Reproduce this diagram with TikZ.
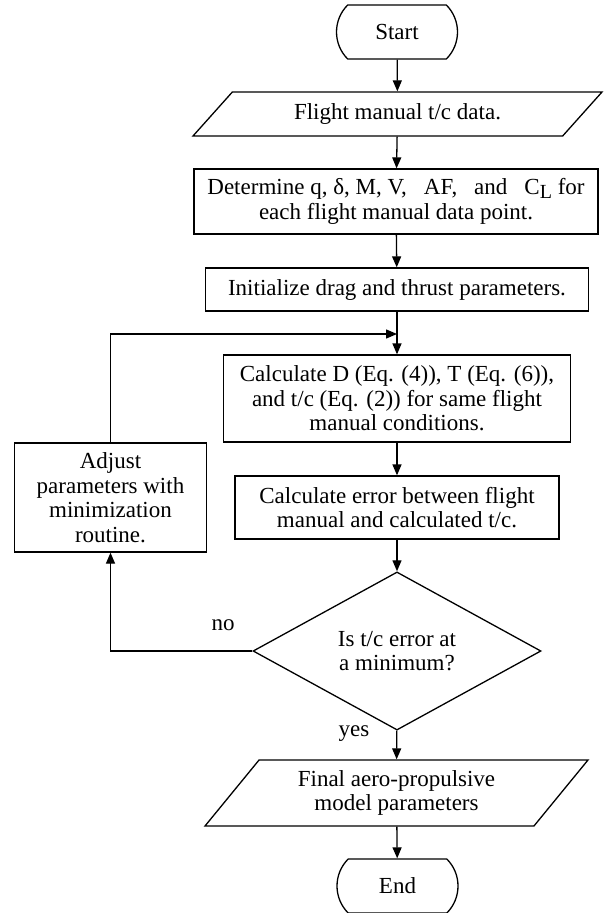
\documentclass[tikz,border=0pt]{standalone}
\usepackage{fontspec}
\setmainfont{Liberation Serif}
\usetikzlibrary{shapes.geometric,shapes.misc,arrows.meta}
\tikzset{
  every node/.style={font=\fontsize{23}{24.5}\selectfont, align=center, inner sep=0pt},
  term/.style={draw, rounded rectangle, rounded rectangle arc length=90,
    minimum width=121pt, minimum height=54pt},
  io/.style={draw, trapezium, trapezium stretches body},
  proc/.style={draw, rectangle},
  decide/.style={draw, diamond, minimum width=288pt, minimum height=130pt}
}
\newcommand{\gap}{\hspace{17pt}}
\begin{document}
\begin{tikzpicture}[x=1pt, y=-1pt, line width=1.3pt,
    >={Triangle[length=11pt,width=9pt]}]
      \useasboundingbox (0,0) rectangle (603,913);
      \draw
        (397,32) node[term] (start){Start}
        (397.5,114) node[io, trapezium left angle=28, trapezium right angle=152,
          minimum width=409pt, minimum height=44pt] (data){Flight manual t/c data.}
        (396,201.5) node[proc, minimum width=404pt, minimum height=65pt] (determine)
          {Determine q, δ, M, V,\gap AF,\gap and\gap C\raisebox{-0.35ex}{\fontsize{20}{20}\selectfont L} for\\each flight manual data point.}
        (397,289.5) node[proc, minimum width=383pt, minimum height=43pt] (init)
          {Initialize drag and thrust parameters.}
        (397,398.5) node[proc, minimum width=347pt, minimum height=87pt] (calcD)
          {Calculate D (Eq. (4)), T (Eq. (6)),\\and t/c (Eq. (2)) for same flight\\manual conditions.}
        (397,507.5) node[proc, minimum width=324pt, minimum height=63pt] (calcerr)
          {Calculate error between flight\\manual and calculated t/c.}
        (110.5,497.5) node[proc, minimum width=192pt, minimum height=109pt] (adjust)
          {Adjust\\parameters with\\minimization\\routine.}
        (397,651) node[decide] (decide){Is t/c error at\\a minimum?}
        (223,625) node (no){no}
        (354,734) node (yes){yes}
        (396.5,793) node[io, trapezium left angle=40, trapezium right angle=140,
          minimum width=383pt, minimum height=66pt] (final)
          {Final aero-propulsive\\model parameters}
        (397.5,886) node[term] (end){End};
      \coordinate (join) at (397,334);
      \begin{scope}[->]
        \draw (start) to (data);
        \draw (data) to (determine);
        \draw (determine) to (init);
        \draw (init) to (calcD);
        \draw (calcD) to (calcerr);
        \draw (calcerr) to (decide);
        \draw (decide) to (final);
        \draw (final) to (end);
        \draw (decide.west) -| (adjust.south);
        \draw (adjust.north) |- (join);
      \end{scope}
    \end{tikzpicture}
\end{document}
